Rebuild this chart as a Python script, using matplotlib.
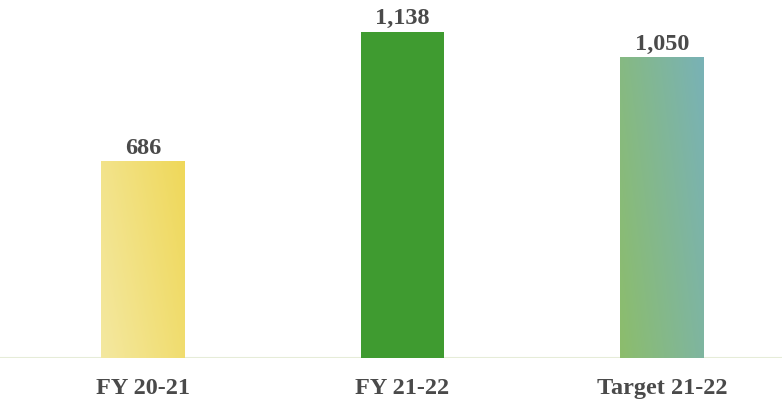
import numpy as np
import matplotlib.pyplot as plt
from matplotlib.colors import LinearSegmentedColormap

categories = ['FY 20-21', 'FY 21-22', 'Target 21-22']
values = [686, 1138, 1050]
value_labels = ['686', '1,138', '1,050']

# fill colours (gradient start, gradient end) for each bar
bar_colors = [('#f4e8a0', '#efd85a'), ('#3f9b30', '#3f9b30'), ('#8cbd6c', '#79b2b6')]

fig = plt.figure(figsize=(7.82, 4.03), dpi=100)
ax = fig.add_axes([0, 45 / 403, 1, 358 / 403])

x = np.arange(len(categories))
bars = ax.bar(x, values, width=0.32, color=[c[1] for c in bar_colors], zorder=2)

ax.set_xlim(-143 / 259.5, (782 - 143) / 259.5)
ax.set_ylim(0, 358 / 0.2866)

# gradients inside the bars
for b, (c0, c1) in zip(bars, bar_colors):
    if c0 == c1:
        continue
    cmap = LinearSegmentedColormap.from_list('g', [c0, c1])
    grad = np.linspace(0, 1, 64).reshape(1, -1)
    grad = np.vstack([grad * 0.7 + np.linspace(0, 0.3, 32).reshape(-1, 1)])
    x0, y0 = b.get_x(), b.get_y()
    im = ax.imshow(grad, cmap=cmap, aspect='auto', origin='lower',
                   extent=[x0, x0 + b.get_width(), y0, y0 + b.get_height()],
                   zorder=3)
    im.set_clip_path(b)

ax.axhline(0, color='#e6ecd8', lw=1.5, zorder=1)

txt_font = ['Liberation Serif', 'DejaVu Serif']
for xi, v, lab in zip(x, values, value_labels):
    ax.text(xi, v + 26, lab, ha='center', va='baseline', fontsize=17.5,
            fontweight='bold', color='#4a4a4a', family=txt_font)

for xi, lab in zip(x, categories):
    ax.text(xi, -124, lab, ha='center', va='baseline', fontsize=17.5,
            fontweight='bold', color='#4a4a4a', family=txt_font, clip_on=False)

ax.axis('off')
fig.savefig('out.png', dpi=100)
